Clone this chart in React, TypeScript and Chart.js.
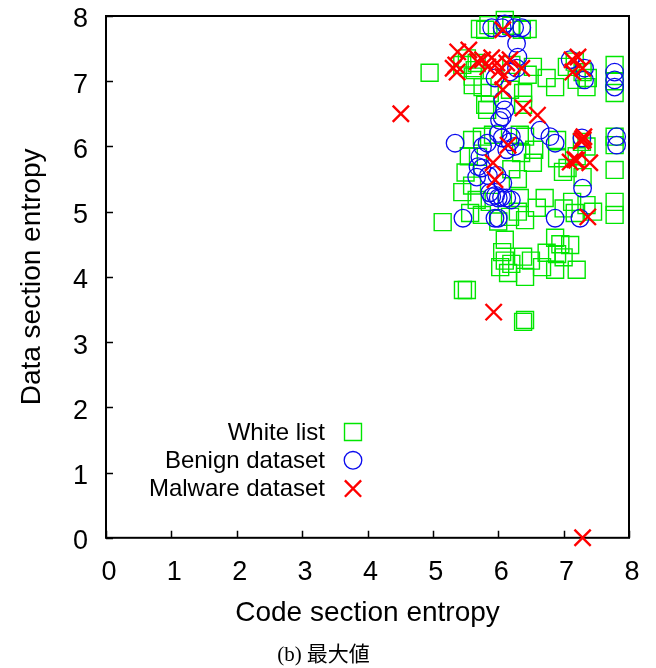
import React, { useEffect, useRef } from 'react';
import { Chart, registerables } from 'chart.js';

Chart.register(...registerables);

// ---- Data (code section entropy, data section entropy) ----
const whiteListX = [
  4.95, 5.80, 5.85, 6.10, 6.36, 6.20, 5.72, 6.45, 5.67, 5.64,
  5.52, 5.45, 6.53, 6.20, 6.45, 5.61, 5.61, 5.76, 5.87, 6.18,
  6.38, 6.87, 6.74, 7.05, 7.17, 7.29, 7.37, 7.20, 7.35, 7.78,
  7.78, 7.78, 5.80, 5.83, 6.38, 5.75, 5.92, 6.33, 6.41, 5.60,
  5.69, 5.55, 5.50, 6.35, 6.55, 6.53, 6.20, 6.30, 6.90, 6.90,
  7.28, 7.35, 7.20, 6.99, 7.06, 7.29, 7.78, 7.78, 7.78, 5.45,
  5.60, 5.67, 5.87, 6.33, 6.59, 6.71, 7.00, 7.13, 7.35, 7.45,
  7.17, 5.15, 5.57, 5.75, 6.00, 6.18, 6.30, 6.41, 6.10, 6.06,
  6.10, 6.20, 6.38, 6.50, 6.87, 6.95, 6.74, 6.90, 7.00, 7.10,
  6.87, 6.67, 7.20, 6.41, 6.15, 6.03, 5.46, 5.52, 6.38, 6.41,
  7.78, 7.78,
];
const whiteListY = [
  7.13, 7.79, 7.86, 7.94, 7.79, 7.85, 7.80, 7.80, 7.28, 7.17,
  7.35, 7.25, 7.22, 7.25, 7.10, 6.94, 7.07, 6.91, 6.82, 6.87,
  6.82, 6.91, 7.05, 7.22, 7.30, 7.14, 7.05, 7.02, 6.91, 7.25,
  7.00, 6.82, 6.64, 6.56, 6.64, 6.15, 6.18, 6.18, 6.15, 6.10,
  5.84, 5.85, 5.60, 5.90, 5.95, 5.75, 5.65, 5.50, 5.82, 6.10,
  6.07, 6.00, 5.85, 5.61, 5.67, 5.53, 5.64, 5.15, 4.95, 5.30,
  5.40, 5.18, 5.15, 5.21, 5.06, 5.21, 5.05, 5.15, 5.10, 5.00,
  4.98, 4.84, 4.98, 4.95, 4.85, 4.92, 5.00, 4.87, 4.57, 4.38,
  4.25, 4.20, 4.31, 4.25, 4.60, 4.50, 4.37, 4.35, 4.30, 4.49,
  4.11, 4.15, 4.11, 4.00, 4.06, 4.15, 3.80, 3.80, 3.31, 3.34,
  6.15, 6.02,
];

const benignX = [
  5.90, 6.06, 6.25, 6.36, 6.10, 6.28, 6.30, 6.28, 5.95, 6.18,
  6.07, 6.10, 6.06, 7.10, 7.32, 7.32, 7.78, 7.78, 7.78, 5.34,
  6.02, 6.06, 6.18, 6.25, 6.13, 6.00, 6.20, 5.83, 5.76, 5.72,
  5.69, 5.75, 5.67, 5.85, 5.98, 6.07, 5.87, 5.90, 5.96, 6.00,
  6.05, 6.13, 6.20, 6.64, 6.79, 6.87, 7.28, 7.29, 7.81, 7.81,
  5.46, 5.95, 6.00, 6.87, 7.25,
];
const benignY = [
  7.82, 7.82, 7.82, 7.82, 7.88, 7.58, 7.37, 7.20, 7.05, 7.14,
  6.71, 6.56, 6.45, 7.33, 7.20, 7.02, 7.14, 7.02, 6.91, 6.05,
  6.40, 6.13, 6.07, 6.00, 5.95, 6.20, 6.15, 6.05, 6.00, 5.84,
  5.69, 5.67, 5.53, 5.55, 5.56, 5.44, 5.29, 5.23, 5.25, 5.21,
  5.22, 5.21, 5.18, 6.25, 6.15, 6.05, 6.13, 5.36, 6.15, 6.02,
  4.90, 4.90, 4.90, 4.90, 4.90,
];

const malwareX = [
  7.29, 4.51, 5.93, 5.38, 5.55, 5.37, 5.31, 5.76, 5.90, 5.98,
  5.84, 6.02, 6.13, 6.18, 6.36, 6.07, 6.07, 6.07, 7.13, 7.22,
  7.14, 7.29, 6.38, 6.60, 6.15, 5.92, 5.95, 7.29, 7.27, 7.31,
  7.10, 7.20, 7.40, 7.37, 7.17, 5.35, 5.68, 7.30,
];
const malwareY = [
  0.00, 6.50, 3.46, 7.45, 7.48, 7.14, 7.20, 7.33, 7.36, 7.28,
  7.22, 7.17, 7.28, 7.33, 7.20, 6.87, 7.07, 7.79, 7.33, 7.37,
  7.14, 7.20, 6.59, 6.48, 6.02, 5.75, 5.49, 6.12, 6.08, 6.15,
  5.76, 5.79, 5.75, 4.92, 5.80, 7.25, 7.30, 6.10,
];

const seriesLabels = ['White list', 'Benign dataset', 'Malware dataset'];
const xTickLabels = ['0', '1', '2', '3', '4', '5', '6', '7', '8'];
const yTickLabels = ['0', '1', '2', '3', '4', '5', '6', '7', '8'];
const xTitle = 'Code section entropy';
const yTitle = 'Data section entropy';
const caption = '(b) 最大値';

const SANS = '"Liberation Sans", Arial, Helvetica, sans-serif';

function toPoints(xs: number[], ys: number[]) {
  return xs.map((x, i) => ({ x, y: ys[i] }));
}

function drawMarker(ctx: CanvasRenderingContext2D, style: string, x: number, y: number, r: number, color: string, lw: number) {
  ctx.save();
  ctx.strokeStyle = color;
  ctx.lineWidth = lw;
  ctx.beginPath();
  if (style === 'rect') {
    const s = r * Math.SQRT1_2;
    ctx.rect(x - s, y - s, 2 * s, 2 * s);
  } else if (style === 'circle') {
    ctx.arc(x, y, r, 0, Math.PI * 2);
  } else {
    const s = r * Math.SQRT1_2;
    ctx.moveTo(x - s, y - s);
    ctx.lineTo(x + s, y + s);
    ctx.moveTo(x - s, y + s);
    ctx.lineTo(x + s, y - s);
  }
  ctx.stroke();
  ctx.restore();
}

const frameTicksPlugin = {
  id: 'frameTicks',
  beforeDatasetsDraw(chart: any) {
    const { ctx, chartArea: a, scales } = chart;
    const tl = 7;
    ctx.save();
    ctx.strokeStyle = '#000';
    ctx.lineWidth = 1.5;
    ctx.beginPath();
    scales.x.ticks.forEach((t: any) => {
      const px = Math.round(scales.x.getPixelForValue(t.value)) + 0.5;
      ctx.moveTo(px, a.bottom);
      ctx.lineTo(px, a.bottom - tl);
    });
    scales.y.ticks.forEach((t: any) => {
      const py = Math.round(scales.y.getPixelForValue(t.value)) + 0.5;
      ctx.moveTo(a.left, py);
      ctx.lineTo(a.left + tl, py);
    });
    ctx.stroke();
    ctx.lineWidth = 2;
    ctx.strokeRect(a.left, a.top, a.right - a.left, a.bottom - a.top);
    ctx.restore();
  },
};

const insideLegendPlugin = {
  id: 'insideLegend',
  afterDatasetsDraw(chart: any) {
    const { ctx, chartArea: a } = chart;
    const textRight = a.left + 219;
    const markerX = a.left + 247;
    const firstRow = a.top + 416;
    const rowGap = 28.3;
    ctx.save();
    ctx.font = `24px ${SANS}`;
    ctx.fillStyle = '#000';
    ctx.textAlign = 'right';
    ctx.textBaseline = 'middle';
    chart.data.datasets.forEach((ds: any, i: number) => {
      const y = firstRow + i * rowGap;
      ctx.fillText(ds.label, textRight, y + 1);
      drawMarker(ctx, ds.pointStyle, markerX, y, ds.pointRadius, ds.borderColor, ds.borderWidth);
    });
    ctx.restore();
  },
};

export default function App() {
  const canvasRef = useRef<HTMLCanvasElement | null>(null);

  useEffect(() => {
    document.body.style.margin = '0';
    const canvas = canvasRef.current;
    if (!canvas) return;
    const chart = new Chart(canvas, {
      type: 'scatter',
      data: {
        datasets: [
          {
            label: seriesLabels[0],
            data: toPoints(whiteListX, whiteListY),
            pointStyle: 'rect',
            pointRadius: 12,
            borderColor: '#00e600',
            backgroundColor: 'rgba(0,0,0,0)',
            borderWidth: 1.4,
            order: 3,
            clip: false,
          },
          {
            label: seriesLabels[1],
            data: toPoints(benignX, benignY),
            pointStyle: 'circle',
            pointRadius: 8.8,
            borderColor: '#0a0aee',
            backgroundColor: 'rgba(0,0,0,0)',
            borderWidth: 1.3,
            order: 2,
            clip: false,
          },
          {
            label: seriesLabels[2],
            data: toPoints(malwareX, malwareY),
            pointStyle: 'crossRot',
            pointRadius: 11.5,
            borderColor: '#ff0000',
            backgroundColor: '#ff0000',
            borderWidth: 2.4,
            order: 1,
            clip: false,
          },
        ] as any,
      },
      options: {
        responsive: false,
        animation: false,
        events: [],
        layout: {
          padding: { top: 16, right: 9, left: 0, bottom: 0 },
          autoPadding: false,
        },
        plugins: {
          legend: { display: false },
          tooltip: { enabled: false },
          title: {
            display: true,
            text: caption,
            position: 'bottom',
            color: '#000',
            font: { family: '"Liberation Serif", "Noto Sans CJK JP", serif', size: 21, weight: 'normal', lineHeight: 1.2 },
            padding: { top: 0, bottom: 0 },
          },
        },
        scales: {
          x: {
            type: 'linear',
            min: 0,
            max: 8,
            ticks: {
              stepSize: 1,
              color: '#000',
              font: { family: SANS, size: 27 },
              padding: 19,
              labelOffset: 3,
              maxRotation: 0,
              autoSkip: false,
              callback: (_v: any, i: number) => xTickLabels[i],
            },
            grid: { display: false, drawTicks: false },
            border: { display: false },
            title: {
              display: true,
              text: xTitle,
              color: '#000',
              font: { family: SANS, size: 28, lineHeight: 1 },
              padding: { top: 0, bottom: 16 },
            },
            afterFit: (s: any) => {
              s.height = 105;
              s.paddingLeft = 0;
              s.paddingRight = 0;
            },
          },
          y: {
            type: 'linear',
            min: 0,
            max: 8,
            ticks: {
              stepSize: 1,
              color: '#000',
              font: { family: SANS, size: 27 },
              padding: 18,
              labelOffset: 4,
              autoSkip: false,
              callback: (_v: any, i: number) => yTickLabels[i],
            },
            grid: { display: false, drawTicks: false },
            border: { display: false },
            title: {
              display: true,
              text: yTitle,
              color: '#000',
              font: { family: SANS, size: 28, lineHeight: 1 },
              padding: { top: 18, bottom: 0 },
            },
            afterFit: (s: any) => {
              s.width = 106;
              s.paddingTop = 0;
              s.paddingBottom = 0;
            },
          },
          yRight: {
            type: 'linear',
            position: 'right',
            display: true,
            ticks: { display: false },
            grid: { display: false, drawTicks: false },
            border: { display: false },
            afterFit: (s: any) => {
              s.width = 18;
              s.paddingTop = 0;
              s.paddingBottom = 0;
            },
          },
        },
      } as any,
      plugins: [frameTicksPlugin, insideLegendPlugin],
    });
    return () => chart.destroy();
  }, []);

  return (
    <canvas ref={canvasRef} width={656} height={668} style={{ display: 'block' }} />
  );
}
